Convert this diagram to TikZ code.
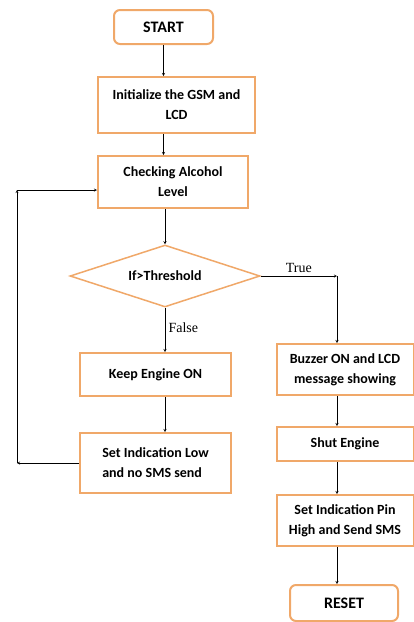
\documentclass[tikz,border=0pt]{standalone}
\usepackage{fontspec}
\setmainfont{Carlito}
\newfontfamily\labelfont{Liberation Serif}
\usetikzlibrary{shapes.geometric, arrows}
\definecolor{boxorange}{RGB}{240,168,105}
\tikzstyle{arrow} = [thin,->,>=stealth]

\begin{document}
\begin{tikzpicture}[x=1pt,y=-1pt,
	process/.style={rectangle, draw=boxorange, line width=2pt, fill=white, inner sep=0pt, align=center, font=\fontsize{14}{20}\selectfont\bfseries},
	terminal/.style={process, rounded corners=6pt, font=\fontsize{16}{20}\selectfont\bfseries},
	decision/.style={diamond, aspect=3, draw=boxorange, line width=1.5pt, fill=white, inner sep=0pt, font=\fontsize{14}{20}\selectfont\bfseries},
	branch/.style={font=\labelfont\fontsize{14}{16}\selectfont}]
	
	\useasboundingbox (0,0) rectangle (414,622);
	
	\node[terminal, minimum width=99pt, minimum height=34pt] (1) at (163.5,27) {START};
	\node[process, minimum width=157pt, minimum height=56pt] (2) at (176.5,105) {Initialize the GSM and\\LCD};
	\node[process, minimum width=150pt, minimum height=52pt] (3) at (173,182) {Checking Alcohol\\Level};
	\node[decision, minimum width=190pt, minimum height=62pt] (4) at (165,276) {If>Threshold};
	\node[process, minimum width=151pt, minimum height=43pt] (5) at (155.5,374.5) {Keep Engine ON};
	\node[process, minimum width=151pt, minimum height=60pt, align=left] (6) at (155.5,463) {Set Indication Low\\and no SMS send};
	\node[process, minimum width=137pt, minimum height=51pt] (7) at (345,369.5) {Buzzer ON and LCD\\message showing};
	\node[process, minimum width=137pt, minimum height=34pt] (8) at (345,444) {Shut Engine};
	\node[process, minimum width=137pt, minimum height=51pt] (9) at (345,520.5) {Set Indication Pin\\High and Send SMS};
	\node[terminal, minimum width=108pt, minimum height=36pt] (10) at (344,603) {RESET};
	
	\coordinate (true) at (337,276);
	\coordinate (back) at (17,190);
	
	\draw[arrow] (1) -- (2.north -| 1);
	\draw[arrow] (2.south -| 1) -- (3.north -| 1);
	\draw[arrow] (3.south -| 4) -- (4.north);
	\draw[arrow] (4.south) -- node[branch, right, pos=0.45] {False} (5.north -| 4);
	\draw[arrow] (5.south -| 4) -- (6.north -| 4);
	\draw[arrow] (4.east) -- node[branch, above, pos=0.5] {True} (true);
	\draw[arrow] (true) -- (7.north -| true);
	\draw[arrow] (7.south -| true) -- (8.north -| true);
	\draw[arrow] (8.south -| true) -- (9.north -| true);
	\draw[arrow] (9.south -| true) -- (10.north -| true);
	\draw[arrow] (6.west) -- (6.west -| back);
	\draw[arrow] (6.west -| back) -- (back);
	\draw[arrow] (back) -- (3.west |- back);
\end{tikzpicture}
\end{document}
